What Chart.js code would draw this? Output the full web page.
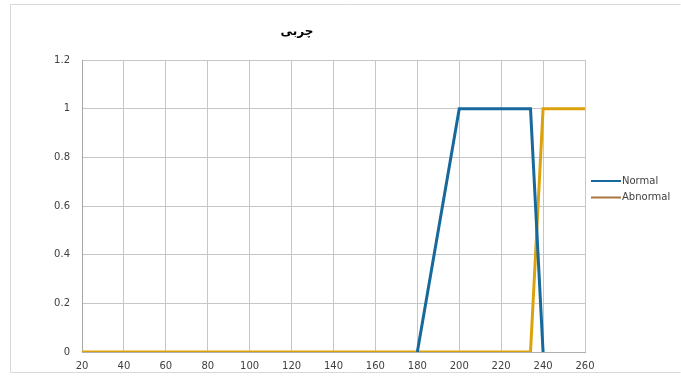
<!DOCTYPE html>
<html>
<head>
<meta charset="utf-8">
<script src="https://cdn.jsdelivr.net/npm/chart.js@4/dist/chart.umd.min.js"></script>
<style>
  html, body { margin: 0; padding: 0; background: #ffffff; }
  #wrap { position: relative; width: 681px; height: 376px; }
</style>
</head>
<body>
<div id="wrap"><canvas id="chart" width="681" height="376"></canvas></div>
<script>
// Membership functions for "چربی"
const chartTitle = 'چربی';
const seriesNames = ['Normal', 'Abnormal'];
const normalX = [180, 200, 234, 240];
const normalY = [0, 1, 1, 0];
const abnormalX = [20, 234, 240, 260];
const abnormalY = [0, 0, 1, 1];
const xTicks = [20, 40, 60, 80, 100, 120, 140, 160, 180, 200, 220, 240, 260];
const yTicks = [0, 0.2, 0.4, 0.6, 0.8, 1, 1.2];

const blue = '#17699b';
const gold = '#dca20c';
const legendColors = [blue, '#a87440'];
const tickFont = '"DejaVu Sans", sans-serif';

function toPoints(xs, ys) {
  return xs.map((x, i) => ({ x: x, y: ys[i] }));
}

// frame, title and legend drawn around the plot
const decorations = {
  id: 'decorations',
  beforeDraw(chart) {
    const c = chart.ctx;
    c.save();
    c.strokeStyle = '#d9d9d9';
    c.lineWidth = 1;
    c.beginPath();
    c.moveTo(680.5, 4.5);
    c.lineTo(10.5, 4.5);
    c.lineTo(10.5, 372.5);
    c.lineTo(680.5, 372.5);
    c.stroke();
    c.restore();
  },
  afterDraw(chart) {
    const c = chart.ctx;
    c.save();
    c.fillStyle = '#000000';
    c.font = 'bold 12px "DejaVu Sans", sans-serif';
    c.textAlign = 'center';
    c.textBaseline = 'middle';
    c.fillText(chartTitle, 297, 32);

    c.font = '10px ' + tickFont;
    c.textAlign = 'left';
    seriesNames.forEach((name, i) => {
      const y = 181 + i * 16.5;
      c.strokeStyle = legendColors[i];
      c.lineWidth = 2;
      c.beginPath();
      c.moveTo(591, y);
      c.lineTo(621, y);
      c.stroke();
      c.fillStyle = '#404040';
      c.fillText(name, 622, y);
    });
    c.restore();
  }
};

new Chart(document.getElementById('chart'), {
  type: 'line',
  data: {
    datasets: [
      {
        label: seriesNames[0],
        data: toPoints(normalX, normalY),
        borderColor: blue,
        backgroundColor: blue,
        borderWidth: 3,
        pointRadius: 0,
        tension: 0
      },
      {
        label: seriesNames[1],
        data: toPoints(abnormalX, abnormalY),
        borderColor: gold,
        backgroundColor: gold,
        borderWidth: 3,
        pointRadius: 0,
        tension: 0
      }
    ]
  },
  options: {
    responsive: false,
    animation: false,
    layout: { padding: { top: 60, right: 96, bottom: 0, left: 10 } },
    plugins: {
      legend: { display: false },
      title: { display: false },
      tooltip: { enabled: false }
    },
    scales: {
      x: {
        type: 'linear',
        min: xTicks[0],
        max: xTicks[xTicks.length - 1],
        afterBuildTicks(scale) { scale.ticks = xTicks.map(v => ({ value: v })); },
        afterFit(scale) { scale.height = 24; },
        grid: { color: '#c6c6c6', lineWidth: 1, drawTicks: false },
        border: { display: true, color: '#b0b0b0' },
        ticks: {
          padding: 8,
          color: '#404040',
          font: { family: tickFont, size: 10 }
        }
      },
      y: {
        min: yTicks[0],
        max: yTicks[yTicks.length - 1],
        afterBuildTicks(scale) { scale.ticks = yTicks.map(v => ({ value: v })); },
        afterFit(scale) { scale.width = 72; },
        grid: { color: '#c6c6c6', lineWidth: 1, drawTicks: false },
        border: { display: true, color: '#a6a6a6' },
        ticks: {
          padding: 12,
          color: '#404040',
          font: { family: tickFont, size: 10 },
          callback: v => String(Math.round(v * 10) / 10)
        }
      }
    }
  },
  plugins: [decorations]
});
</script>
</body>
</html>
